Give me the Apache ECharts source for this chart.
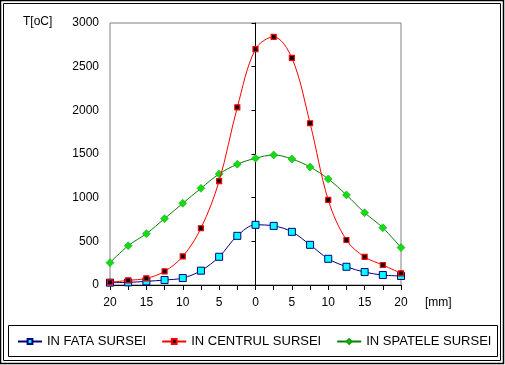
<!DOCTYPE html>
<html>
<head>
<meta charset="utf-8">
<script src="https://cdn.jsdelivr.net/npm/echarts@6/dist/echarts.min.js"></script>
<style>
html,body{margin:0;padding:0;background:#fff;}
#c{width:505px;height:365px;}
</style>
</head>
<body>
<div id="c"></div>
<script>
// Data
var positions = [-20, -17.5, -15, -12.5, -10, -7.5, -5, -2.5, 0, 2.5, 5, 7.5, 10, 12.5, 15, 17.5, 20];
var inFata = [27, 30, 42, 57, 80, 164, 323, 563, 689, 677, 609, 460, 300, 209, 148, 114, 103];
var inCentrul = [30, 53, 76, 156, 327, 650, 1190, 2035, 2700, 2841, 2600, 1852, 974, 515, 321, 229, 134];
var inSpatele = [256, 450, 588, 760, 935, 1107, 1271, 1383, 1451, 1489, 1443, 1351, 1214, 1031, 828, 656, 428];
var seriesNames = ['IN FATA SURSEI', 'IN CENTRUL SURSEI', 'IN SPATELE SURSEI'];
var yName = 'T[oC]';
var xName = '[mm]';

function pairs(vals) {
  return positions.map(function (p, i) { return [p, vals[i]]; });
}

var font = "Arial, 'Liberation Sans', sans-serif";
var chart = echarts.init(document.getElementById('c'), null, {renderer: 'canvas'});
var smooth = 0.35;
chart.setOption({
  animation: false,
  backgroundColor: '#fff',
  textStyle: {fontFamily: font},
  grid: {left: 110, right: 104, top: 23, bottom: 80, show: true, borderColor: '#808080', borderWidth: 1, backgroundColor: 'transparent'},
  xAxis: {
    type: 'value', min: -20, max: 20, interval: 2.5,
    axisLine: {show: true, lineStyle: {color: '#000', width: 1}},
    axisTick: {show: true, length: 5, lineStyle: {color: '#000'}},
    axisLabel: {color: '#000', fontSize: 12, fontFamily: font, margin: 12,
      formatter: function (v) { return (Math.round(v * 10) % 50 === 0) ? String(Math.abs(v)) : ''; }},
    splitLine: {show: false}
  },
  yAxis: {
    type: 'value', min: 0, max: 3000, interval: 500,
    axisLine: {show: true, lineStyle: {color: '#000', width: 1}},
    axisTick: {show: true, length: 4, lineStyle: {color: '#000'}},
    axisLabel: {color: '#000', fontSize: 12, fontFamily: font, margin: 11,
      formatter: function (v) { return String(v); }},
    splitLine: {show: false}
  },
  legend: {
    left: 17, top: 335, width: 486, padding: 0, itemWidth: 24, itemHeight: 6, itemGap: 15,
    textStyle: {color: '#000', fontSize: 13, fontFamily: font},
    data: seriesNames
  },
  graphic: [
    {type: 'rect', shape: {x: 0.5, y: 0.5, width: 503, height: 363}, style: {fill: 'none', stroke: '#000', lineWidth: 1.5}, silent: true},
    {type: 'rect', shape: {x: 3.5, y: 3.5, width: 497, height: 357}, style: {fill: 'none', stroke: '#000', lineWidth: 1}, silent: true},
    {type: 'rect', shape: {x: 8.5, y: 325.5, width: 489, height: 31}, style: {fill: 'none', stroke: '#000', lineWidth: 1}, silent: true},
    {type: 'text', left: 23, top: 16, style: {text: yName, fill: '#000', font: '12px ' + font}, silent: true},
    {type: 'text', left: 425, top: 297, style: {text: xName, fill: '#000', font: '12px ' + font}, silent: true}
  ],
  series: [
    {
      name: seriesNames[0], type: 'line', data: pairs(inFata), smooth: smooth,
      symbol: 'rect', symbolSize: 7, showAllSymbol: true,
      lineStyle: {color: '#000080', width: 1},
      itemStyle: {color: '#00FFFF', borderColor: '#000080', borderWidth: 1},
      z: 3
    },
    {
      name: seriesNames[1], type: 'line', data: pairs(inCentrul), smooth: smooth,
      symbol: 'rect', symbolSize: 5, showAllSymbol: true,
      lineStyle: {color: '#FF0000', width: 1},
      itemStyle: {color: '#000', borderColor: '#FF0000', borderWidth: 1.2},
      z: 4
    },
    {
      name: seriesNames[2], type: 'line', data: pairs(inSpatele), smooth: smooth,
      symbol: 'diamond', symbolSize: 8, showAllSymbol: true,
      lineStyle: {color: '#008000', width: 1},
      itemStyle: {color: '#11DD11', borderColor: '#119911', borderWidth: 0.5},
      z: 2
    }
  ]
});
</script>
</body>
</html>
